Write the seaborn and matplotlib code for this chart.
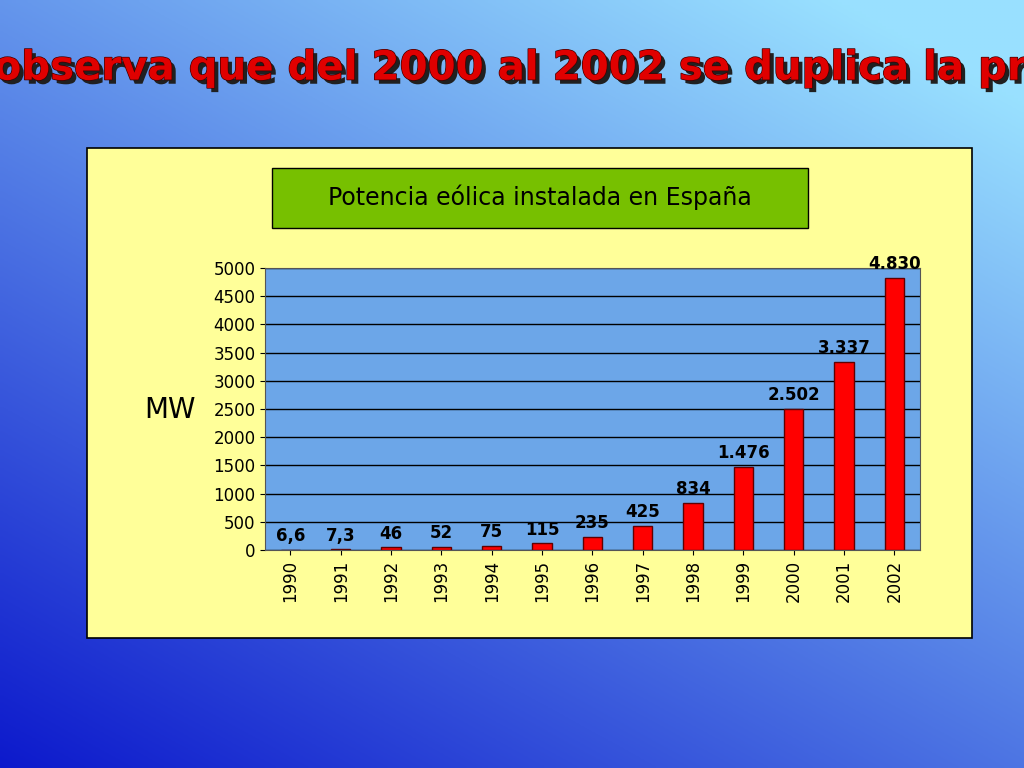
import numpy as np
import pandas as pd
import matplotlib.pyplot as plt
import seaborn as sns
from matplotlib.patches import Rectangle
import matplotlib.patheffects as pe

# Data
years = ['1990', '1991', '1992', '1993', '1994', '1995', '1996',
         '1997', '1998', '1999', '2000', '2001', '2002']
mw = [6.6, 7.3, 46, 52, 75, 115, 235, 425, 834, 1476, 2502, 3337, 4830]
labels = ['6,6', '7,3', '46', '52', '75', '115', '235', '425', '834',
          '1.476', '2.502', '3.337', '4.830']
df = pd.DataFrame({'year': years, 'mw': mw})

fig = plt.figure(figsize=(10.24, 7.68), dpi=100)

# Gradient background (dark blue bottom-left -> light cyan top-right)
bg = fig.add_axes([0, 0, 1, 1])
xx, yy = np.meshgrid(np.linspace(0, 1, 256), np.linspace(0, 1, 256))
t = np.clip(0.55 * xx + 0.75 * yy, 0, 1.2) / 1.2
c0 = np.array([0.05, 0.10, 0.80])
c1 = np.array([0.60, 0.88, 1.00])
img = c0 + (c1 - c0) * t[..., None]
bg.imshow(img, origin='lower', extent=[0, 1, 0, 1], aspect='auto')
bg.set_xlim(0, 1)
bg.set_ylim(0, 1)
bg.axis('off')

# Title with shadow
bg.text(0.515, 0.912, 'Aquí se observa que del 2000 al 2002 se duplica la producción.',
        ha='center', va='center', fontsize=29, fontweight='bold',
        family=['Liberation Sans Narrow', 'DejaVu Sans'], color='#E00000',
        path_effects=[pe.withSimplePatchShadow(offset=(3, -3), shadow_rgbFace='#202020', alpha=1),
                      pe.Stroke(linewidth=1, foreground='#400000'), pe.Normal()])

# Yellow panel
bg.add_patch(Rectangle((87 / 1024, 1 - 638 / 768), 885 / 1024, 490 / 768,
                       facecolor='#FFFF99', edgecolor='black', lw=1.2))
# Green title box
bg.add_patch(Rectangle((272 / 1024, 1 - 228 / 768), 536 / 1024, 60 / 768,
                       facecolor='#77C000', edgecolor='black', lw=1))
bg.text(540 / 1024, 1 - 197 / 768, 'Potencia eólica instalada en España',
        ha='center', va='center', fontsize=17, color='black', family='DejaVu Sans')
bg.text(170 / 1024, 1 - 410 / 768, 'MW', ha='center', va='center',
        fontsize=20, color='black')

# Chart
ax = fig.add_axes([0.259, 0.284, 0.639, 0.367])
ax.set_facecolor('#6CA6E8')
sns.barplot(data=df, x='year', y='mw', ax=ax, color='#FF0000',
            edgecolor='#600000', linewidth=1, width=0.38, saturation=1)
ax.set_ylim(0, 5000)
ax.set_yticks(range(0, 5001, 500))
ax.yaxis.grid(True, color='black', lw=1)
ax.set_axisbelow(True)
ax.set_xlabel('')
ax.set_ylabel('')
ax.tick_params(axis='x', rotation=90, labelsize=12)
ax.tick_params(axis='y', labelsize=12)
for s in ax.spines.values():
    s.set_color('#555555')
for i, (v, lab) in enumerate(zip(mw, labels)):
    ax.text(i, v + 80, lab, ha='center', va='bottom', fontsize=12,
            fontweight='bold', color='black', clip_on=False)

fig.savefig('out.png', dpi=100)
